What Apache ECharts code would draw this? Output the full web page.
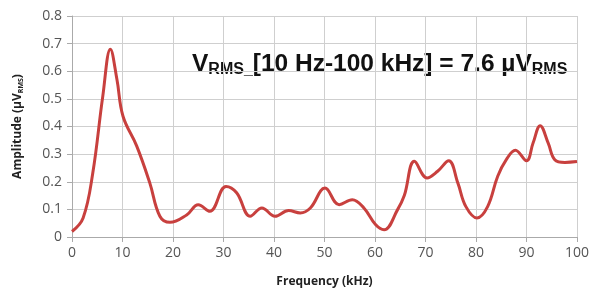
<!DOCTYPE html>
<html>
<head>
<meta charset="utf-8">
<script src="https://cdn.jsdelivr.net/npm/echarts@6/dist/echarts.min.js"></script>
<style>
  html, body { margin: 0; padding: 0; background: #fff; }
  #chart { width: 597px; height: 299px; }
</style>
</head>
<body>
<div id="chart"></div>
<script>
const freqKHz = [0, 2.2, 4.1, 6.1, 7.6, 8.9, 10.1, 12.8, 15.4, 17.4, 19.4, 22.7, 25, 27.3, 30.5,
  32.6, 35.3, 37.6, 40.2, 42.9, 45.2, 47.2, 50.1, 52.9, 55.5, 57.8, 60.1, 61.8, 64.5, 65.8,
  67.8, 70.3, 72.4, 74.6, 76.4, 78, 80.2, 82.3, 84.3, 86, 87.8, 90, 91.3, 92.7, 94.3, 95.6, 97.6, 100]
const amplitude = [0.02, 0.069, 0.23, 0.51, 0.68, 0.57, 0.437, 0.33, 0.196, 0.075, 0.053, 0.08, 0.117, 0.093, 0.183,
  0.16, 0.075, 0.105, 0.075, 0.096, 0.087, 0.105, 0.177, 0.117, 0.135, 0.105, 0.045, 0.026, 0.1, 0.15,
  0.274, 0.214, 0.238, 0.276, 0.196, 0.11, 0.069, 0.11, 0.22, 0.28, 0.314, 0.276, 0.34, 0.403, 0.34, 0.28, 0.27, 0.273]
const xTicks = [0, 10, 20, 30, 40, 50, 60, 70, 80, 90, 100]
const yTicks = [0, 0.1, 0.2, 0.3, 0.4, 0.5, 0.6, 0.7, 0.8]

const chart = echarts.init(document.getElementById('chart'))
const tickFont = { color: '#555', fontSize: 14, fontFamily: 'Open Sans' }

chart.setOption({
  animation: false,
  grid: { left: 72, right: 20, top: 16, bottom: 62 },
  xAxis: {
    type: 'value',
    min: xTicks[0],
    max: xTicks[xTicks.length - 1],
    interval: 10,
    name: 'Frequency (kHz)',
    nameLocation: 'middle',
    nameGap: 39,
    nameTextStyle: { color: '#222', fontSize: 12, fontWeight: 'bold', fontFamily: 'Open Sans' },
    axisLine: { lineStyle: { color: '#aaa' } },
    axisTick: { show: true, length: 5, lineStyle: { color: '#aaa' } },
    axisLabel: { ...tickFont, margin: 9 },
    splitLine: { lineStyle: { color: '#cfcfcf' } },
  },
  yAxis: {
    type: 'value',
    min: yTicks[0],
    max: yTicks[yTicks.length - 1],
    interval: 0.1,
    name: '{m|Amplitude (µV}{s|RMS}{m|)}',
    nameLocation: 'middle',
    nameRotate: 90,
    nameGap: 48,
    nameTextStyle: {
      rich: {
        m: { color: '#222', fontSize: 12, fontWeight: 'bold', fontFamily: 'Open Sans' },
        s: { color: '#222', fontSize: 7, fontWeight: 'bold', fontFamily: 'Open Sans', padding: [6, 0, 0, 0] },
      },
    },
    axisLine: { show: true, lineStyle: { color: '#aaa' } },
    axisTick: { show: true, length: 5, lineStyle: { color: '#aaa' } },
    axisLabel: { ...tickFont, margin: 10, formatter: (v) => (v === 0 ? '0' : v.toFixed(1)) },
    splitLine: { lineStyle: { color: '#cfcfcf' } },
  },
  graphic: [
    {
      type: 'text',
      left: 192,
      top: 50,
      style: {
        text: '{b|V}{s|RMS_}{b|[10 Hz-100 kHz] = 7.6 µV}{s|RMS}',
        rich: {
          b: { fill: '#111', fontSize: 24.5, fontWeight: 'bold', fontFamily: 'Liberation Sans', lineHeight: 28 },
          s: { fill: '#111', fontSize: 16, fontWeight: 'bold', fontFamily: 'Liberation Sans', lineHeight: 18, padding: [12, 0, 0, 0] },
        },
      },
    },
  ],
  series: [
    {
      type: 'line',
      data: freqKHz.map((f, i) => [f, amplitude[i]]),
      smooth: 0.4,
      showSymbol: false,
      lineStyle: { color: '#c8403e', width: 3 },
    },
  ],
})
</script>
</body>
</html>
